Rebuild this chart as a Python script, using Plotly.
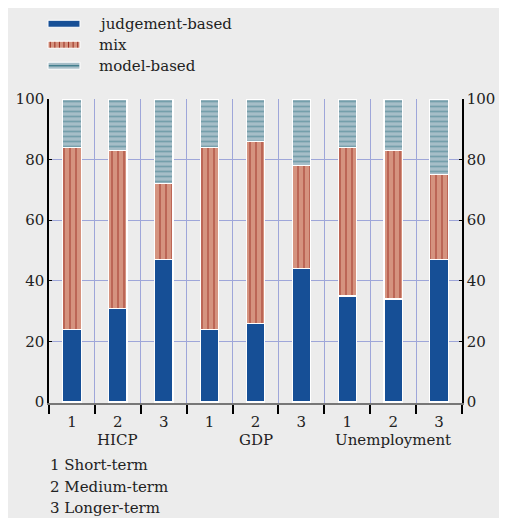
import plotly.graph_objects as go

groups = ["HICP", "GDP", "Unemployment"]
horizons = ["1", "2", "3"]
judgement = [24, 31, 47, 24, 26, 44, 35, 34, 47]
mix = [60, 52, 25, 60, 60, 34, 49, 49, 28]
model = [16, 17, 28, 16, 14, 22, 16, 17, 25]
footnotes = ["1 Short-term", "2 Medium-term", "3 Longer-term"]
series_names = ["judgement-based", "mix", "model-based"]

BG = "#ececec"
BLUE = "#164f96"
MIX_BG, MIX_FG = "#d5937f", "#9c2e22"
MOD_BG, MOD_FG = "#a6bec8", "#437f8e"
GRID = "#9ea6d9"
FONT = dict(family="DejaVu Serif", size=15, color="#222222")

x = list(range(len(judgement)))
ticktext = [h for g in groups for h in horizons]

fig = go.Figure()
fig.add_trace(go.Bar(x=x, y=judgement, name=series_names[0], width=0.4,
                     marker=dict(color=BLUE, line=dict(color="white", width=1.2))))
fig.add_trace(go.Bar(x=x, y=mix, name=series_names[1], width=0.4,
                     marker=dict(color=MIX_FG, line=dict(color="white", width=1.2),
                                 pattern=dict(shape="|", bgcolor=MIX_BG, fgcolor=MIX_FG,
                                              size=6, solidity=0.3))))
fig.add_trace(go.Bar(x=x, y=model, name=series_names[2], width=0.4,
                     marker=dict(color=MOD_FG, line=dict(color="white", width=1.2),
                                 pattern=dict(shape="-", bgcolor=MOD_BG, fgcolor=MOD_FG,
                                              size=5, solidity=0.35))))
# helper invisible trace for the right axis
fig.add_trace(go.Scatter(x=[0], y=[50], yaxis="y2", mode="markers",
                         marker=dict(opacity=0), showlegend=False, hoverinfo="skip"))

boundaries = [i - 0.5 for i in range(len(judgement) + 1)]

fig.update_layout(
    width=499, height=510,
    margin=dict(l=41, r=45, t=91, b=115, autoexpand=False),
    paper_bgcolor=BG, plot_bgcolor=BG,
    barmode="stack", showlegend=False,
    font=FONT,
    xaxis=dict(range=[-0.5, len(judgement) - 0.5], tickvals=x, ticktext=ticktext,
               ticks="outside", ticklen=4, tickcolor="rgba(0,0,0,0)",
               showgrid=False, zeroline=False, automargin=False,
               showline=True, linecolor="#777777", linewidth=1.5,
               tickfont=FONT,
               minor=dict(tickvals=boundaries, ticks="outside", ticklen=9,
                          tickcolor="black", tickwidth=1.5,
                          showgrid=True, gridcolor=GRID, gridwidth=1)),
    yaxis=dict(range=[-0.3, 100], tickvals=[0, 20, 40, 60, 80, 100],
               ticks="inside", ticklen=3, tickcolor="black", automargin=False,
               showline=True, linecolor="black", linewidth=1.5,
               showgrid=True, gridcolor=GRID, gridwidth=1, zeroline=False,
               tickfont=FONT),
    yaxis2=dict(range=[-0.3, 100], tickvals=[0, 20, 40, 60, 80, 100],
                overlaying="y", side="right", automargin=False,
                ticks="inside", ticklen=3, tickcolor="black",
                showline=True, linecolor="black", linewidth=1.5,
                showgrid=False, zeroline=False, tickfont=FONT),
)

# group labels
for i, g in enumerate(groups):
    fig.add_annotation(x=i * 3 + 1, y=-0.121, xref="x", yref="paper", text=g,
                       showarrow=False, font=FONT, yanchor="middle")

# footnotes
for i, t in enumerate(footnotes):
    fig.add_annotation(x=-0.003, y=-0.203 - 0.072 * i, xref="paper", yref="paper",
                       text=t, showarrow=False, font=FONT, xanchor="left", yanchor="middle")

# manual legend
lx0, lx1 = -0.0024, 0.075
leg_y = [(1.236, 1.259), (1.167, 1.190), (1.098, 1.121)]
fills = [BLUE, MIX_BG, MOD_BG]
for (y0, y1), f, name in zip(leg_y, fills, series_names):
    fig.add_shape(type="rect", xref="paper", yref="paper", x0=lx0, x1=lx1, y0=y0, y1=y1,
                  fillcolor=f, line=dict(color="white", width=1))
    fig.add_annotation(x=0.116, y=(y0 + y1) / 2, xref="paper", yref="paper", text=name,
                       showarrow=False, font=FONT, xanchor="left", yanchor="middle")
# mix swatch stripes
y0, y1 = leg_y[1]
n = 7
for k in range(n):
    xx = lx0 + (lx1 - lx0) * (k + 0.5) / n
    fig.add_shape(type="line", xref="paper", yref="paper", x0=xx, x1=xx, y0=y0 + 0.002, y1=y1 - 0.002,
                  line=dict(color=MIX_FG, width=1))
# model swatch stripe
y0, y1 = leg_y[2]
fig.add_shape(type="line", xref="paper", yref="paper", x0=lx0 + 0.002, x1=lx1 - 0.002,
              y0=(y0 + y1) / 2, y1=(y0 + y1) / 2, line=dict(color=MOD_FG, width=1.5))

fig.write_html("out.html")
